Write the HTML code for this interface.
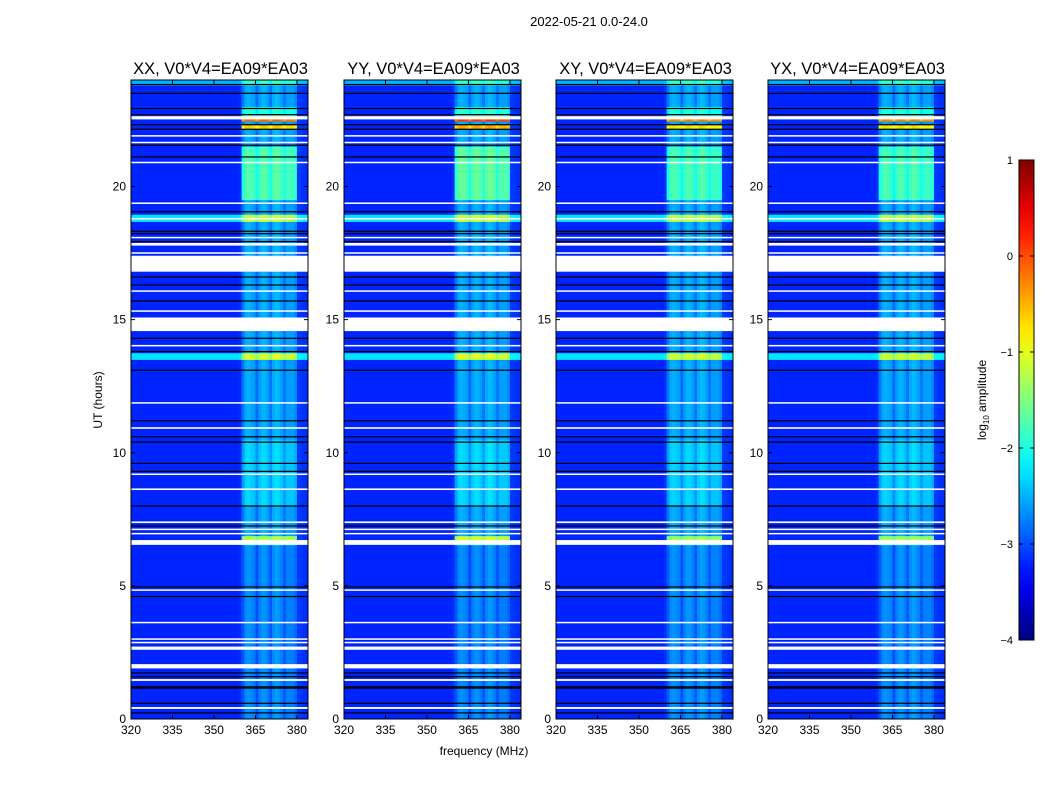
<!DOCTYPE html>
<html><head><meta charset="utf-8"><style>
body{margin:0;background:#fff;}
svg{display:block;font-family:"Liberation Sans",sans-serif;}
</style></head><body>
<svg id="fig" width="1050" height="800" viewBox="0 0 1050 800">
<text x="589" y="26" font-size="13" text-anchor="middle">2022-05-21 0.0-24.0</text>
<text x="484" y="755" font-size="12" text-anchor="middle">frequency (MHz)</text>
<text x="0" y="0" font-size="12" text-anchor="middle" transform="translate(102,400) rotate(-90)">UT (hours)</text>
<g id="panels"></g>
<g id="cbar"></g>
</svg>
<script>
// ---- data ----
const panelNames = ["XX, V0*V4=EA09*EA03","YY, V0*V4=EA09*EA03","XY, V0*V4=EA09*EA03","YX, V0*V4=EA09*EA03"];
const panelGain = [1.0, 1.1, 0.95, 0.95];
const freqStart = 320, freqEnd = 384;
// log10 amplitude per 1-MHz bin, 320..383
const freqLevel = [
-3.2,-3.2,-3.2,-3.2,-3.2,-3.2,-3.2,-3.2,-3.2,-3.2,
-3.2,-3.2,-3.2,-3.2,-3.2,-3.2,-3.2,-3.2,-3.2,-3.2,
-3.2,-3.2,-3.2,-3.2,-3.2,-3.2,-3.2,-3.2,-3.2,-3.2,
-3.2,-3.2,-3.2,-3.2,-3.2,-3.2,-3.2,-3.2,-3.2,-3.15,
-2.8,-2.55,-2.5,-2.55,-2.6,-2.85,-2.6,-2.5,-2.5,-2.6,
-2.8,-2.55,-2.45,-2.5,-2.6,-2.8,-2.6,-2.6,-2.6,-2.7,
-3.1,-3.1,-3.15,-3.15];
// [startHour, endHour, fullWidthDelta, rfiDelta]
const events = [
[0,6.5,0,-0.15],[6.72,6.88,0,1.3],[8.0,10.5,0,0.2],[13.5,13.75,0.95,0.5],
[18.68,18.95,0.95,0.4],[19.5,21.5,0,0.8],[22.15,22.32,0,1.9],[22.45,22.65,0,2.4],
[22.65,23.0,0,0.6],[23.8,24,0.7,0]];
// white (flagged) intervals in hours
const gaps = [[0.38,0.45],[1.43,1.5],[1.9,2.06],[2.6,2.72],[2.85,2.9],[2.98,3.03],[3.6,3.65],[4.82,4.87],
[6.54,6.72],[6.94,6.99],[7.1,7.15],[7.36,7.42],[8.6,8.66],[9.17,9.22],[10.9,10.96],[11.85,11.9],
[14.0,14.05],[14.57,15.08],[15.3,15.35],[16.05,16.1],[16.8,17.4],[17.48,17.53],[17.78,17.88],[18.06,18.11],
[18.76,18.82],[19.35,19.4],[20.88,20.93],[21.63,21.68],[21.88,21.93],[22.52,22.64]];
// black (zero) lines in hours
const blacks = [0.23,0.59,1.16,1.21,1.59,1.73,4.6,4.96,7.25,8.0,9.3,9.6,10.4,10.6,11.2,13.1,13.8,14.3,
15.7,16.3,16.6,17.93,18.23,18.32,19.05,21.11,21.55,22.15,22.32,22.7,22.93,23.5,23.83];
const xTicks = [320,335,350,365,380];
const yTicks = [0,5,10,15,20];
const cbTicks = [-4,-3,-2,-1,0,1];
// ---- layout ----
const NS="http://www.w3.org/2000/svg";
const panelX=[131,344,556,768], PW=177, PT=80, PB=719;
const vmin=-4, vmax=1;
function jet(v){
  let t=Math.max(0,Math.min(1,(v-vmin)/(vmax-vmin)));
  const c=x=>Math.round(255*Math.max(0,Math.min(1,x)));
  const r=Math.min(4*t-1.5,-4*t+4.5), g=Math.min(4*t-0.5,-4*t+3.5), b=Math.min(4*t+0.5,-4*t+2.5);
  return `rgb(${c(r)},${c(g)},${c(b)})`;
}
function mk(tag,attrs,parent){const e=document.createElementNS(NS,tag);for(const k in attrs)e.setAttribute(k,attrs[k]);parent.appendChild(e);return e;}
const panelsG=document.getElementById('panels');
let bps=new Set([0,24]);
events.forEach(e=>{bps.add(e[0]);bps.add(e[1]);});
bps=[...bps].sort((a,b)=>a-b);
panelNames.forEach((name,pi)=>{
  const x0=panelX[pi];
  const xs=f=>x0+(f-freqStart)/(freqEnd-freqStart)*PW;
  const ys=h=>PB-h/24*(PB-PT);
  const g=mk('g',{},panelsG);
  
  
  for(let i=0;i<bps.length-1;i++){
    const t0=bps[i],t1=bps[i+1],tm=(t0+t1)/2;
    let bd=0,rd=0;
    events.forEach(e=>{if(tm>=e[0]&&tm<e[1]){bd+=e[2];rd+=e[3];}});
    let runStart=0,runCol=null;
    for(let f=0;f<=freqLevel.length;f++){
      let col=null;
      if(f<freqLevel.length){const base=freqLevel[f];const v=base+bd+(base>-3.0?rd*panelGain[pi]:0);col=jet(v);}
      if(col!==runCol){
        if(runCol!==null){
          const r=mk('rect',{x:xs(freqStart+runStart).toFixed(2),y:ys(t1).toFixed(2),width:(xs(freqStart+f)-xs(freqStart+runStart)+0.3).toFixed(2),height:(ys(t0)-ys(t1)+0.3).toFixed(2),fill:runCol},g);
          
          
        }
        runStart=f;runCol=col;
      }
    }
  }
  blacks.forEach(h=>{
    const r=mk('rect',{x:x0,y:(ys(h)-0.6).toFixed(2),width:PW,height:1.2,fill:'#000'},g);
    
    
  });
  gaps.forEach(gp=>{
    const r=mk('rect',{x:x0,y:ys(gp[1]).toFixed(2),width:PW,height:Math.max(1.5,ys(gp[0])-ys(gp[1])).toFixed(2),fill:'#fff'},g);
    
    
  });
  const fr=mk('rect',{x:x0,y:PT,width:PW,height:PB-PT,fill:'none',stroke:'#000','stroke-width':1},g);
  
  
  const tt=mk('text',{x:x0+PW/2+1,y:74,'font-size':16.5,'text-anchor':'middle'},g);
  tt.textContent=name;
  
  
  xTicks.forEach(v=>{
    const x=xs(v);
    mk('line',{x1:x,x2:x,y1:PB,y2:PB-4,stroke:'#000'},g);
    mk('line',{x1:x,x2:x,y1:PT,y2:PT+4,stroke:'#000'},g);
    const t=mk('text',{x:x,y:PB+15,'font-size':12,'text-anchor':'middle'},g);
    t.textContent=v;
    
    
  });
  yTicks.forEach(v=>{
    const y=ys(v);
    mk('line',{x1:x0,x2:x0+4,y1:y,y2:y,stroke:'#000'},g);
    mk('line',{x1:x0+PW,x2:x0+PW-4,y1:y,y2:y,stroke:'#000'},g);
    const t=mk('text',{x:x0-5,y:y+4,'font-size':12,'text-anchor':'end'},g);
    t.textContent=v;
    
    
  });
});
// colorbar
const cb=document.getElementById('cbar');
const CX=1019,CW=15,CT=160,CB=640;
const cys=v=>CB-(v-vmin)/(vmax-vmin)*(CB-CT);
const defs=mk('defs',{},cb);
const lg=mk('linearGradient',{id:'jetg',x1:0,y1:1,x2:0,y2:0},defs);
for(let i=0;i<=20;i++){mk('stop',{offset:i/20,'stop-color':jet(vmin+i/20*(vmax-vmin))},lg);}
const cr=mk('rect',{x:CX,y:CT,width:CW,height:CB-CT,fill:'url(#jetg)',stroke:'#000','stroke-width':1},cb);


cbTicks.forEach(v=>{
  const y=cys(v);
  mk('line',{x1:CX,x2:CX+4,y1:y,y2:y,stroke:'#000'},cb);
  mk('line',{x1:CX+CW,x2:CX+CW-4,y1:y,y2:y,stroke:'#000'},cb);
  const t=mk('text',{x:1013,y:y+4,'font-size':11,'text-anchor':'end'},cb);
  t.textContent=(v<0?'\u2212'+(-v):v);
  
  
});
const cl=mk('text',{x:0,y:0,'font-size':12,'text-anchor':'middle',transform:'translate(986,400) rotate(-90)'},cb);
cl.innerHTML='log<tspan font-size="8" dy="3">10</tspan><tspan dy="-3"> amplitude</tspan>';


</script>
</body></html>
